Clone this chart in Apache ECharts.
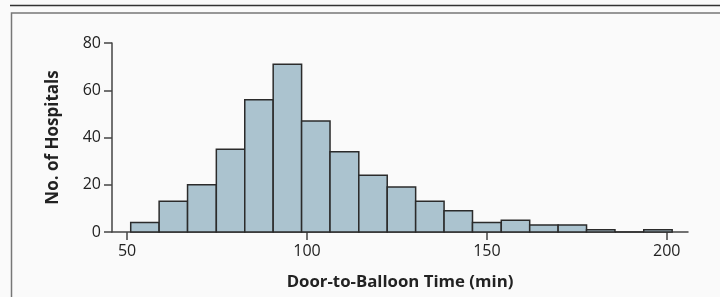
<!DOCTYPE html>
<html>
<head>
<meta charset="utf-8">
<script src="https://cdn.jsdelivr.net/npm/echarts@6/dist/echarts.min.js"></script>
<style>
  html, body { margin: 0; padding: 0; background: #fafafa; }
  #chart { width: 720px; height: 297px; }
</style>
</head>
<body>
<div id="chart"></div>
<script>
// bin edges (min), 19 bins
var binEdges = [51, 58.9, 66.8, 74.8, 82.7, 90.6, 98.5, 106.4, 114.4, 122.3, 130.2,
                138.1, 146.0, 154.0, 161.9, 169.8, 177.7, 185.6, 193.6, 201.5];
// number of hospitals in each bin
var counts = [4, 13, 20, 35, 56, 71, 47, 34, 24, 19, 13, 9, 4, 5, 3, 3, 1, 0, 1];
var xTicks = [50, 100, 150, 200];
var yTicks = [0, 20, 40, 60, 80];

var histData = [];
for (var i = 0; i < counts.length; i++) {
    histData.push([binEdges[i], binEdges[i + 1], counts[i]]);
}

var font = '"Open Sans", "Noto Sans", sans-serif';
var chart = echarts.init(document.getElementById('chart'));

var option = {
    backgroundColor: '#fafafa',
    animation: false,
    textStyle: {fontFamily: font},
    grid: {left: 112, right: 32, top: 43, bottom: 65},
    graphic: [
        {type: 'line', shape: {x1: 10, y1: 5.5, x2: 720, y2: 5.5},
            style: {stroke: '#333', lineWidth: 1.5}},
        {type: 'rect', shape: {x: 11.5, y: 13, width: 720, height: 300},
            style: {fill: null, stroke: '#777', lineWidth: 1.5}}
    ],
    xAxis: {
        type: 'value',
        min: 45.8,
        max: 205.9,
        name: 'Door-to-Balloon Time (min)',
        nameLocation: 'middle',
        nameGap: 42,
        nameTextStyle: {fontFamily: font, fontWeight: 'bold', fontSize: 16.8, color: '#222'},
        splitLine: {show: false},
        axisLine: {show: true, lineStyle: {color: '#444', width: 1.5}},
        axisTick: {show: true, length: 8, customValues: xTicks, lineStyle: {color: '#444', width: 1.5}},
        axisLabel: {customValues: xTicks, fontSize: 16, color: '#222', margin: 11, fontFamily: font}
    },
    yAxis: {
        type: 'value',
        min: 0,
        max: 80,
        interval: 20,
        name: 'No. of Hospitals',
        nameLocation: 'middle',
        nameGap: 50,
        nameTextStyle: {fontFamily: font, fontWeight: 'bold', fontSize: 17, color: '#222'},
        splitLine: {show: false},
        axisLine: {show: true, lineStyle: {color: '#444', width: 1.5}},
        axisTick: {show: true, length: 8, lineStyle: {color: '#444', width: 1.5}},
        axisLabel: {fontSize: 16, color: '#222', margin: 11, fontFamily: font}
    },
    series: [{
        type: 'custom',
        data: histData,
        renderItem: function (params, api) {
            var p0 = api.coord([api.value(0), api.value(2)]);
            var p1 = api.coord([api.value(1), 0]);
            return {
                type: 'rect',
                shape: {x: p0[0], y: p0[1], width: p1[0] - p0[0], height: p1[1] - p0[1]},
                style: {fill: '#abc3cf', stroke: '#2b2b2b', lineWidth: 1.5}
            };
        }
    }]
};
chart.setOption(option);
</script>
</body>
</html>
